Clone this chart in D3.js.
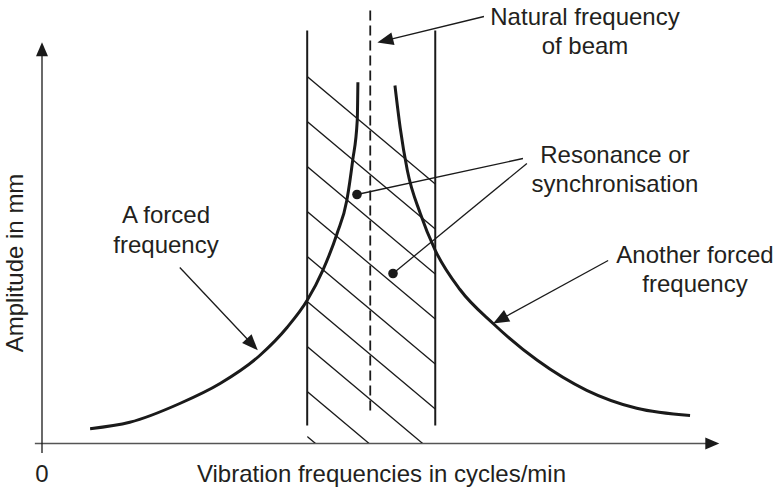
<!DOCTYPE html>
<html>
<head>
<meta charset="utf-8">
<script src="https://cdn.jsdelivr.net/npm/d3@7"></script>
<style>
  html, body { margin: 0; padding: 0; background: #ffffff; }
  svg { display: block; }
  text { font-family: "Liberation Sans", Arial, Helvetica, sans-serif; fill: #231f20; }
</style>
</head>
<body>
<script>
// Forced vibration response on either side of the beam's natural frequency
// (x: frequency, y: amplitude, both in arbitrary chart units)
const belowResonance = [
  [7.4, 3.7], [13.5, 5.3], [21.2, 10.0], [27.4, 15.0], [33.5, 22.0],
  [37.7, 29.0], [40.8, 35.8], [43.2, 43.3], [45.4, 52.5], [46.9, 60.8],
  [47.8, 70.8], [48.5, 80.8], [48.6, 90.3]
];
const aboveResonance = [
  [54.3, 89.5], [55.1, 79.0], [56.2, 68.3], [58.2, 57.5], [60.5, 48.3],
  [64.3, 38.5], [69.4, 30.0], [76.2, 20.8], [83.8, 13.3], [91.5, 8.8],
  [99.7, 7.0]
];
// Resonance band edges and the beam's natural frequency
const bandEdges = [40.8, 60.5];
const naturalFrequency = 50.5;
// Amplitude at which each hatch stroke leaves the left band edge
const hatchStarts = [91.75, 80.5, 69.25, 58, 46.75, 35.5, 24.25, 13, 1.75];

const axisLabels = ["Vibration frequencies in cycles/min", "Amplitude in mm", "0"];
const noteNatural = ["Natural frequency", "of beam"];
const noteResonance = ["Resonance or", "synchronisation"];
const noteForcedLow = ["A forced", "frequency"];
const noteForcedHigh = ["Another forced", "frequency"];

const W = 778, H = 488;
const x = d3.scaleLinear().domain([0, 100]).range([42, 692]);
const y = d3.scaleLinear().domain([0, 100]).range([443.5, 43.5]);

const svg = d3.select("body").append("svg")
  .attr("width", W).attr("height", H).attr("viewBox", `0 0 ${W} ${H}`);

const ink = "#1a1a1a";
const FONT = 24;

function arrowHead(g, x1, y1, x2, y2, len, half, color) {
  const a = Math.atan2(y2 - y1, x2 - x1);
  const bx = x2 - len * Math.cos(a), by = y2 - len * Math.sin(a);
  const px = -Math.sin(a) * half, py = Math.cos(a) * half;
  g.append("path")
    .attr("d", `M${x2},${y2}L${bx + px},${by + py}L${bx - px},${by - py}Z`)
    .attr("fill", color);
}

// Axes
const axes = svg.append("g");
axes.append("line")
  .attr("x1", x(-1.1)).attr("x2", x(103)).attr("y1", y(0)).attr("y2", y(0))
  .attr("stroke", "#555").attr("stroke-width", 1.6);
arrowHead(axes, x(0), y(0), x(104.2), y(0), 14, 6, ink);
axes.append("line")
  .attr("x1", x(0)).attr("x2", x(0)).attr("y1", y(-2.4)).attr("y2", y(98))
  .attr("stroke", ink).attr("stroke-width", 1.3);
arrowHead(axes, x(0), y(0), x(0), y(100.3), 14, 6, ink);

// Hatched resonance band
const clipId = "band-clip";
svg.append("clipPath").attr("id", clipId).append("rect")
  .attr("x", x(bandEdges[0])).attr("y", 0)
  .attr("width", x(bandEdges[1]) - x(bandEdges[0]))
  .attr("height", y(0) - 0.5);
const hatchDrop = 1.365; // amplitude units lost per frequency unit
const hatch = svg.append("g").attr("clip-path", `url(#${clipId})`);
hatch.selectAll("line").data(hatchStarts).join("line")
  .attr("x1", x(bandEdges[0])).attr("y1", d => y(d))
  .attr("x2", x(bandEdges[1])).attr("y2", d => y(d - hatchDrop * (bandEdges[1] - bandEdges[0])))
  .attr("stroke", ink).attr("stroke-width", 1.3);

svg.selectAll("line.edge").data(bandEdges).join("line")
  .attr("class", "edge")
  .attr("x1", d => x(d)).attr("x2", d => x(d))
  .attr("y1", y(4.5)).attr("y2", y(103.25))
  .attr("stroke", ink).attr("stroke-width", 2);

svg.append("line")
  .attr("x1", x(naturalFrequency)).attr("x2", x(naturalFrequency))
  .attr("y1", y(8.25)).attr("y2", y(108.25))
  .attr("stroke", ink).attr("stroke-width", 1.8)
  .attr("stroke-dasharray", "10,5");

// Response curves
const line = d3.line().x(d => x(d[0])).y(d => y(d[1])).curve(d3.curveMonotoneX);
[belowResonance, aboveResonance].forEach(series => {
  svg.append("path").attr("d", line(series))
    .attr("fill", "none").attr("stroke", ink).attr("stroke-width", 3);
});

// Annotations
const notes = svg.append("g");
function pointer(fx, fy, tx, ty) {
  const x1 = x(fx), y1 = y(fy), x2 = x(tx), y2 = y(ty);
  const a = Math.atan2(y2 - y1, x2 - x1);
  notes.append("line")
    .attr("x1", x1).attr("y1", y1)
    .attr("x2", x2 - 12 * Math.cos(a)).attr("y2", y2 - 12 * Math.sin(a))
    .attr("stroke", ink).attr("stroke-width", 1.3);
  arrowHead(notes, x1, y1, x2, y2, 16, 6.5, ink);
}
function leader(fx, fy, tx, ty) {
  notes.append("line")
    .attr("x1", x(fx)).attr("y1", y(fy)).attr("x2", x(tx)).attr("y2", y(ty))
    .attr("stroke", ink).attr("stroke-width", 1.3);
  notes.append("circle").attr("cx", x(tx)).attr("cy", y(ty)).attr("r", 4.8).attr("fill", ink);
}
pointer(68.0, 106.75, 51.6, 100.25);
pointer(21.2, 44.0, 33.2, 23.3);
pointer(87.1, 45.75, 69.4, 30.0);
leader(74.0, 71.25, 48.46, 62.25);
leader(74.6, 70.0, 54.0, 42.5);

function block(lines, cx, baseline, gap) {
  lines.forEach((t, i) => {
    notes.append("text")
      .attr("x", cx).attr("y", baseline + i * gap)
      .attr("text-anchor", "middle").attr("font-size", FONT)
      .text(t);
  });
}
block(noteNatural, 585, 25, 29);
block(noteResonance, 615, 163, 29);
block(noteForcedLow, 166, 223, 30);
block(noteForcedHigh, 695, 263, 29);

// Axis titles
svg.append("text")
  .attr("x", 381.5).attr("y", 482).attr("text-anchor", "middle").attr("font-size", FONT)
  .text(axisLabels[0]);
svg.append("text")
  .attr("transform", "translate(23,263) rotate(-90)")
  .attr("text-anchor", "middle").attr("font-size", FONT)
  .text(axisLabels[1]);
svg.append("text")
  .attr("x", x(0)).attr("y", 482).attr("text-anchor", "middle").attr("font-size", FONT)
  .text(axisLabels[2]);
</script>
</body>
</html>
